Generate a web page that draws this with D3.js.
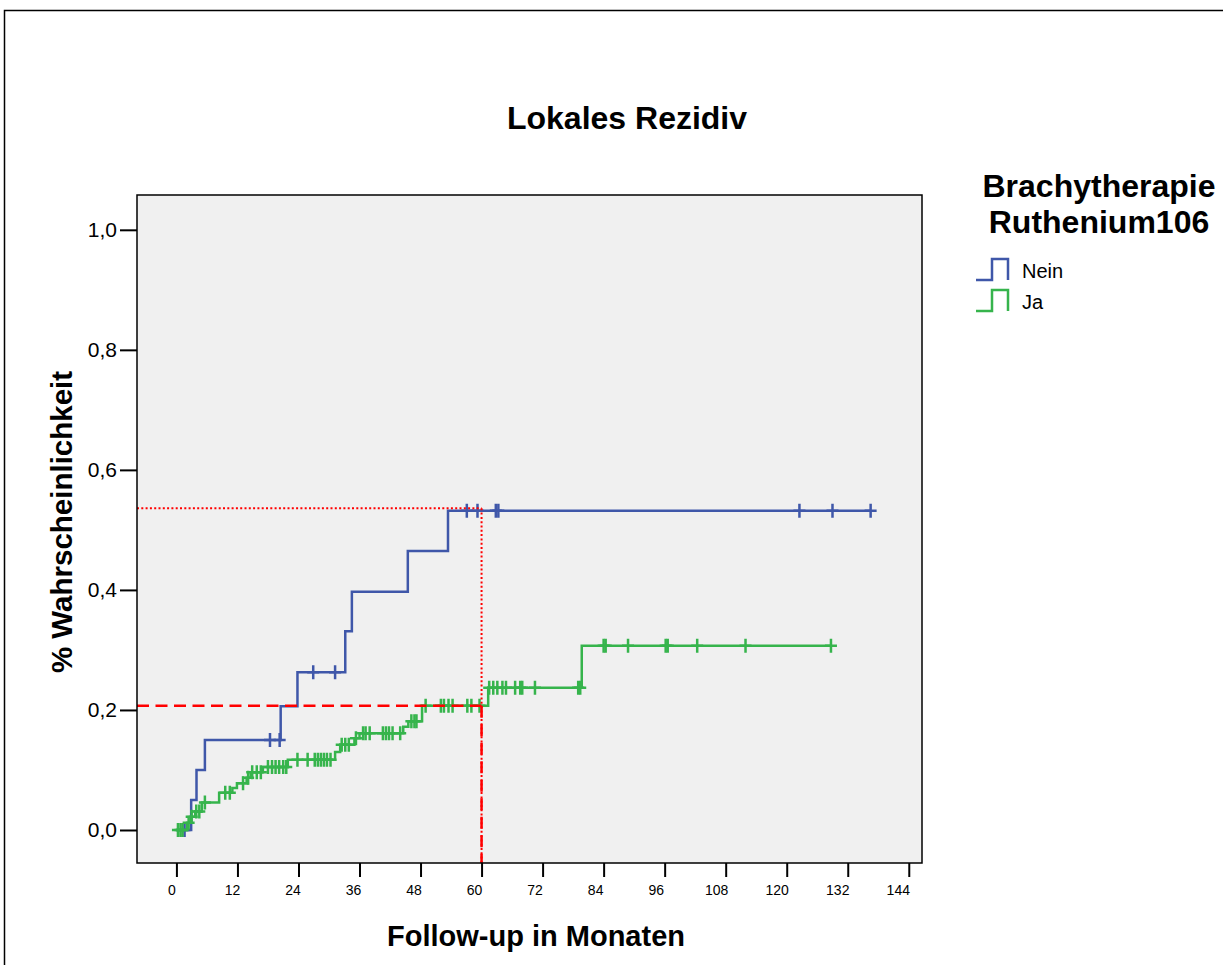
<!DOCTYPE html>
<html lang="de">

<head>
    <meta charset="UTF-8">
    <title>Lokales Rezidiv</title>
    <script src="https://d3js.org/d3.v7.min.js"></script>
    <style>
        body { margin: 0; background: white; }
        svg text { font-family: "Liberation Sans", Arial, sans-serif; }
    </style>
</head>

<body>
    <div id="chart"></div>
    <script>
        // Stufen der kumulativen Inzidenz: [Monat, Wert]
        const neinSteps = [
            [0, 0], [2.9, 0.05], [3.95, 0.10], [5.6, 0.15], [20.5, 0.206], [23.8, 0.263],
            [33.2, 0.331], [34.5, 0.397], [45.5, 0.465], [53.4, 0.532]
        ];
        const neinEnd = 136.5;
        const neinCensored = [1.6, 18.4, 20.3, 26.9, 31.2, 57.1, 59.2, 62.8, 63.3, 122.5, 129.0, 136.5];

        const jaSteps = [
            [0, 0], [2.1, 0.012], [2.8, 0.022], [3.7, 0.031], [5.0, 0.046], [8.4, 0.062],
            [11.0, 0.070], [11.9, 0.078], [13.8, 0.087], [14.6, 0.096], [17.0, 0.105],
            [21.9, 0.117], [31.2, 0.130], [32.2, 0.142], [35.0, 0.153], [36.0, 0.161],
            [44.6, 0.172], [45.6, 0.181], [48.3, 0.207], [61.3, 0.237], [79.7, 0.307]
        ];
        const jaEnd = 128.7;
        const jaCensored = [
            0.3, 0.8, 1.2, 2.4, 3.0, 3.9, 4.5, 5.6, 9.6, 10.5, 13.1, 14.1, 14.9, 15.8, 16.6,
            18.0, 18.8, 19.5, 20.2, 21.0, 21.6, 23.8, 25.8, 27.2, 27.8, 28.4, 29.0, 29.6, 30.3,
            32.5, 33.2, 33.9, 35.3, 36.7, 37.2, 38.0, 40.6, 41.2, 41.8, 42.5, 44.0, 46.2, 46.8, 47.2,
            49.0, 52.0, 52.6, 53.5, 54.3, 57.2, 58.0, 59.6,
            61.5, 62.3, 63.1, 64.1, 64.8, 66.6, 67.6, 68.0, 70.5, 79.0, 79.4,
            84.0, 84.4, 88.8, 96.2, 96.6, 102.4, 111.9, 128.7
        ];

        // Hilfslinien bei 60 Monaten
        const refMonth = 60;
        const refNein = 0.536;
        const refJa = 0.207;

        const xTicks = d3.range(0, 145, 12);
        const yTicks = [0, 0.2, 0.4, 0.6, 0.8, 1.0];
        const groups = ["Nein", "Ja"];
        const colors = { Nein: "#3f57a9", Ja: "#36b44c" };

        const width = 1223, height = 965;
        const plot = { left: 137, right: 922, top: 195, bottom: 863 };

        const svg = d3.select("#chart").append("svg")
            .attr("width", width)
            .attr("height", height);

        // outer frame
        svg.append("rect")
            .attr("x", 4.5).attr("y", 10.5)
            .attr("width", 1300).attr("height", 1000)
            .attr("fill", "none").attr("stroke", "#000").attr("stroke-width", 1.5);

        const x = d3.scaleLinear().domain([-7.75, 146.6]).range([plot.left, plot.right]);
        const y = d3.scaleLinear().domain([-0.055, 1.058]).range([plot.bottom, plot.top]);

        svg.append("rect")
            .attr("x", plot.left).attr("y", plot.top)
            .attr("width", plot.right - plot.left).attr("height", plot.bottom - plot.top)
            .attr("fill", "#f0f0f0");

        const de = d3.formatLocale({ decimal: ",", thousands: ".", grouping: [3], currency: ["", " €"] });

        // axes
        const yAxis = svg.append("g")
            .attr("transform", `translate(${plot.left},0)`)
            .call(d3.axisLeft(y).tickValues(yTicks).tickFormat(de.format(".1f")).tickSize(17).tickPadding(3).tickSizeOuter(0));
        yAxis.select(".domain").remove();
        yAxis.selectAll(".tick line").attr("stroke-width", 2);
        yAxis.selectAll(".tick text").attr("font-size", 21).attr("fill", "#000");

        const xAxis = svg.append("g")
            .attr("transform", `translate(0,${plot.bottom})`)
            .call(d3.axisBottom(x).tickValues(xTicks).tickSize(14).tickPadding(8).tickSizeOuter(0));
        xAxis.select(".domain").remove();
        xAxis.selectAll(".tick line").attr("stroke-width", 2);
        // labels sit a little left of their ticks, as in the original
        xAxis.selectAll(".tick text")
            .attr("font-size", 14).attr("fill", "#000")
            .attr("dx", d => -5 - d / 24);

        // curves
        const line = d3.line().x(d => x(d[0])).y(d => y(d[1])).curve(d3.curveStepAfter);

        function drawGroup(steps, end, censored, color) {
            const pts = steps.concat([[end, steps[steps.length - 1][1]]]);
            svg.append("path")
                .datum(pts)
                .attr("d", line)
                .attr("fill", "none")
                .attr("stroke", color)
                .attr("stroke-width", 2.5);

            // value of the curve at time t
            const valueAt = t => {
                let v = 0;
                steps.forEach(s => { if (s[0] <= t) v = s[1]; });
                return v;
            };
            svg.append("g").selectAll("path")
                .data(censored)
                .join("path")
                .attr("d", t => {
                    const cx = x(t), cy = y(valueAt(t));
                    return `M${cx - 6},${cy}h12M${cx},${cy - 7}v14`;
                })
                .attr("stroke", color)
                .attr("stroke-width", 2.5)
                .attr("fill", "none");
        }

        drawGroup(neinSteps, neinEnd, neinCensored, colors.Nein);
        drawGroup(jaSteps, jaEnd, jaCensored, colors.Ja);

        // reference lines
        const refs = [
            { v: refNein, dash: "2,2.3", w: 2 },
            { v: refJa, dash: "12,6.5", w: 2.5 }
        ];
        refs.forEach(r => {
            svg.append("path")
                .attr("d", `M${plot.left},${y(r.v)}H${x(refMonth)}`)
                .attr("stroke", "#ff0000").attr("stroke-width", r.w)
                .attr("stroke-dasharray", r.dash).attr("fill", "none");
            svg.append("path")
                .attr("d", `M${x(refMonth)},${y(r.v)}V${plot.bottom}`)
                .attr("stroke", "#ff0000").attr("stroke-width", r.w)
                .attr("stroke-dasharray", r.dash).attr("fill", "none");
        });

        // plot border
        svg.append("rect")
            .attr("x", plot.left).attr("y", plot.top)
            .attr("width", plot.right - plot.left).attr("height", plot.bottom - plot.top)
            .attr("fill", "none").attr("stroke", "#000").attr("stroke-width", 1.5);

        // titles
        svg.append("text")
            .attr("x", 627).attr("y", 129)
            .attr("text-anchor", "middle")
            .attr("font-size", 32).attr("font-weight", "bold")
            .text("Lokales Rezidiv");

        svg.append("text")
            .attr("x", 536).attr("y", 946)
            .attr("text-anchor", "middle")
            .attr("font-size", 29).attr("font-weight", "bold")
            .text("Follow-up in Monaten");

        svg.append("text")
            .attr("transform", "translate(72,522) rotate(-90)")
            .attr("text-anchor", "middle")
            .attr("font-size", 29.5).attr("font-weight", "bold")
            .text("% Wahrscheinlichkeit");

        // legend
        const legend = svg.append("g");
        legend.selectAll("text.title")
            .data(["Brachytherapie", "Ruthenium106"])
            .join("text")
            .attr("class", "title")
            .attr("x", 1099).attr("y", (d, i) => 197 + i * 36)
            .attr("text-anchor", "middle")
            .attr("font-size", 32).attr("font-weight", "bold")
            .text(d => d);

        const item = legend.selectAll("g.item")
            .data(groups)
            .join("g")
            .attr("class", "item")
            .attr("transform", (d, i) => `translate(0,${i * 31})`);
        item.append("path")
            .attr("d", "M976,280H992V259H1008V280")
            .attr("fill", "none")
            .attr("stroke", d => colors[d])
            .attr("stroke-width", 2.5);
        item.append("text")
            .attr("x", 1022).attr("y", 278)
            .attr("font-size", 20)
            .text(d => d);
    </script>
</body>

</html>
